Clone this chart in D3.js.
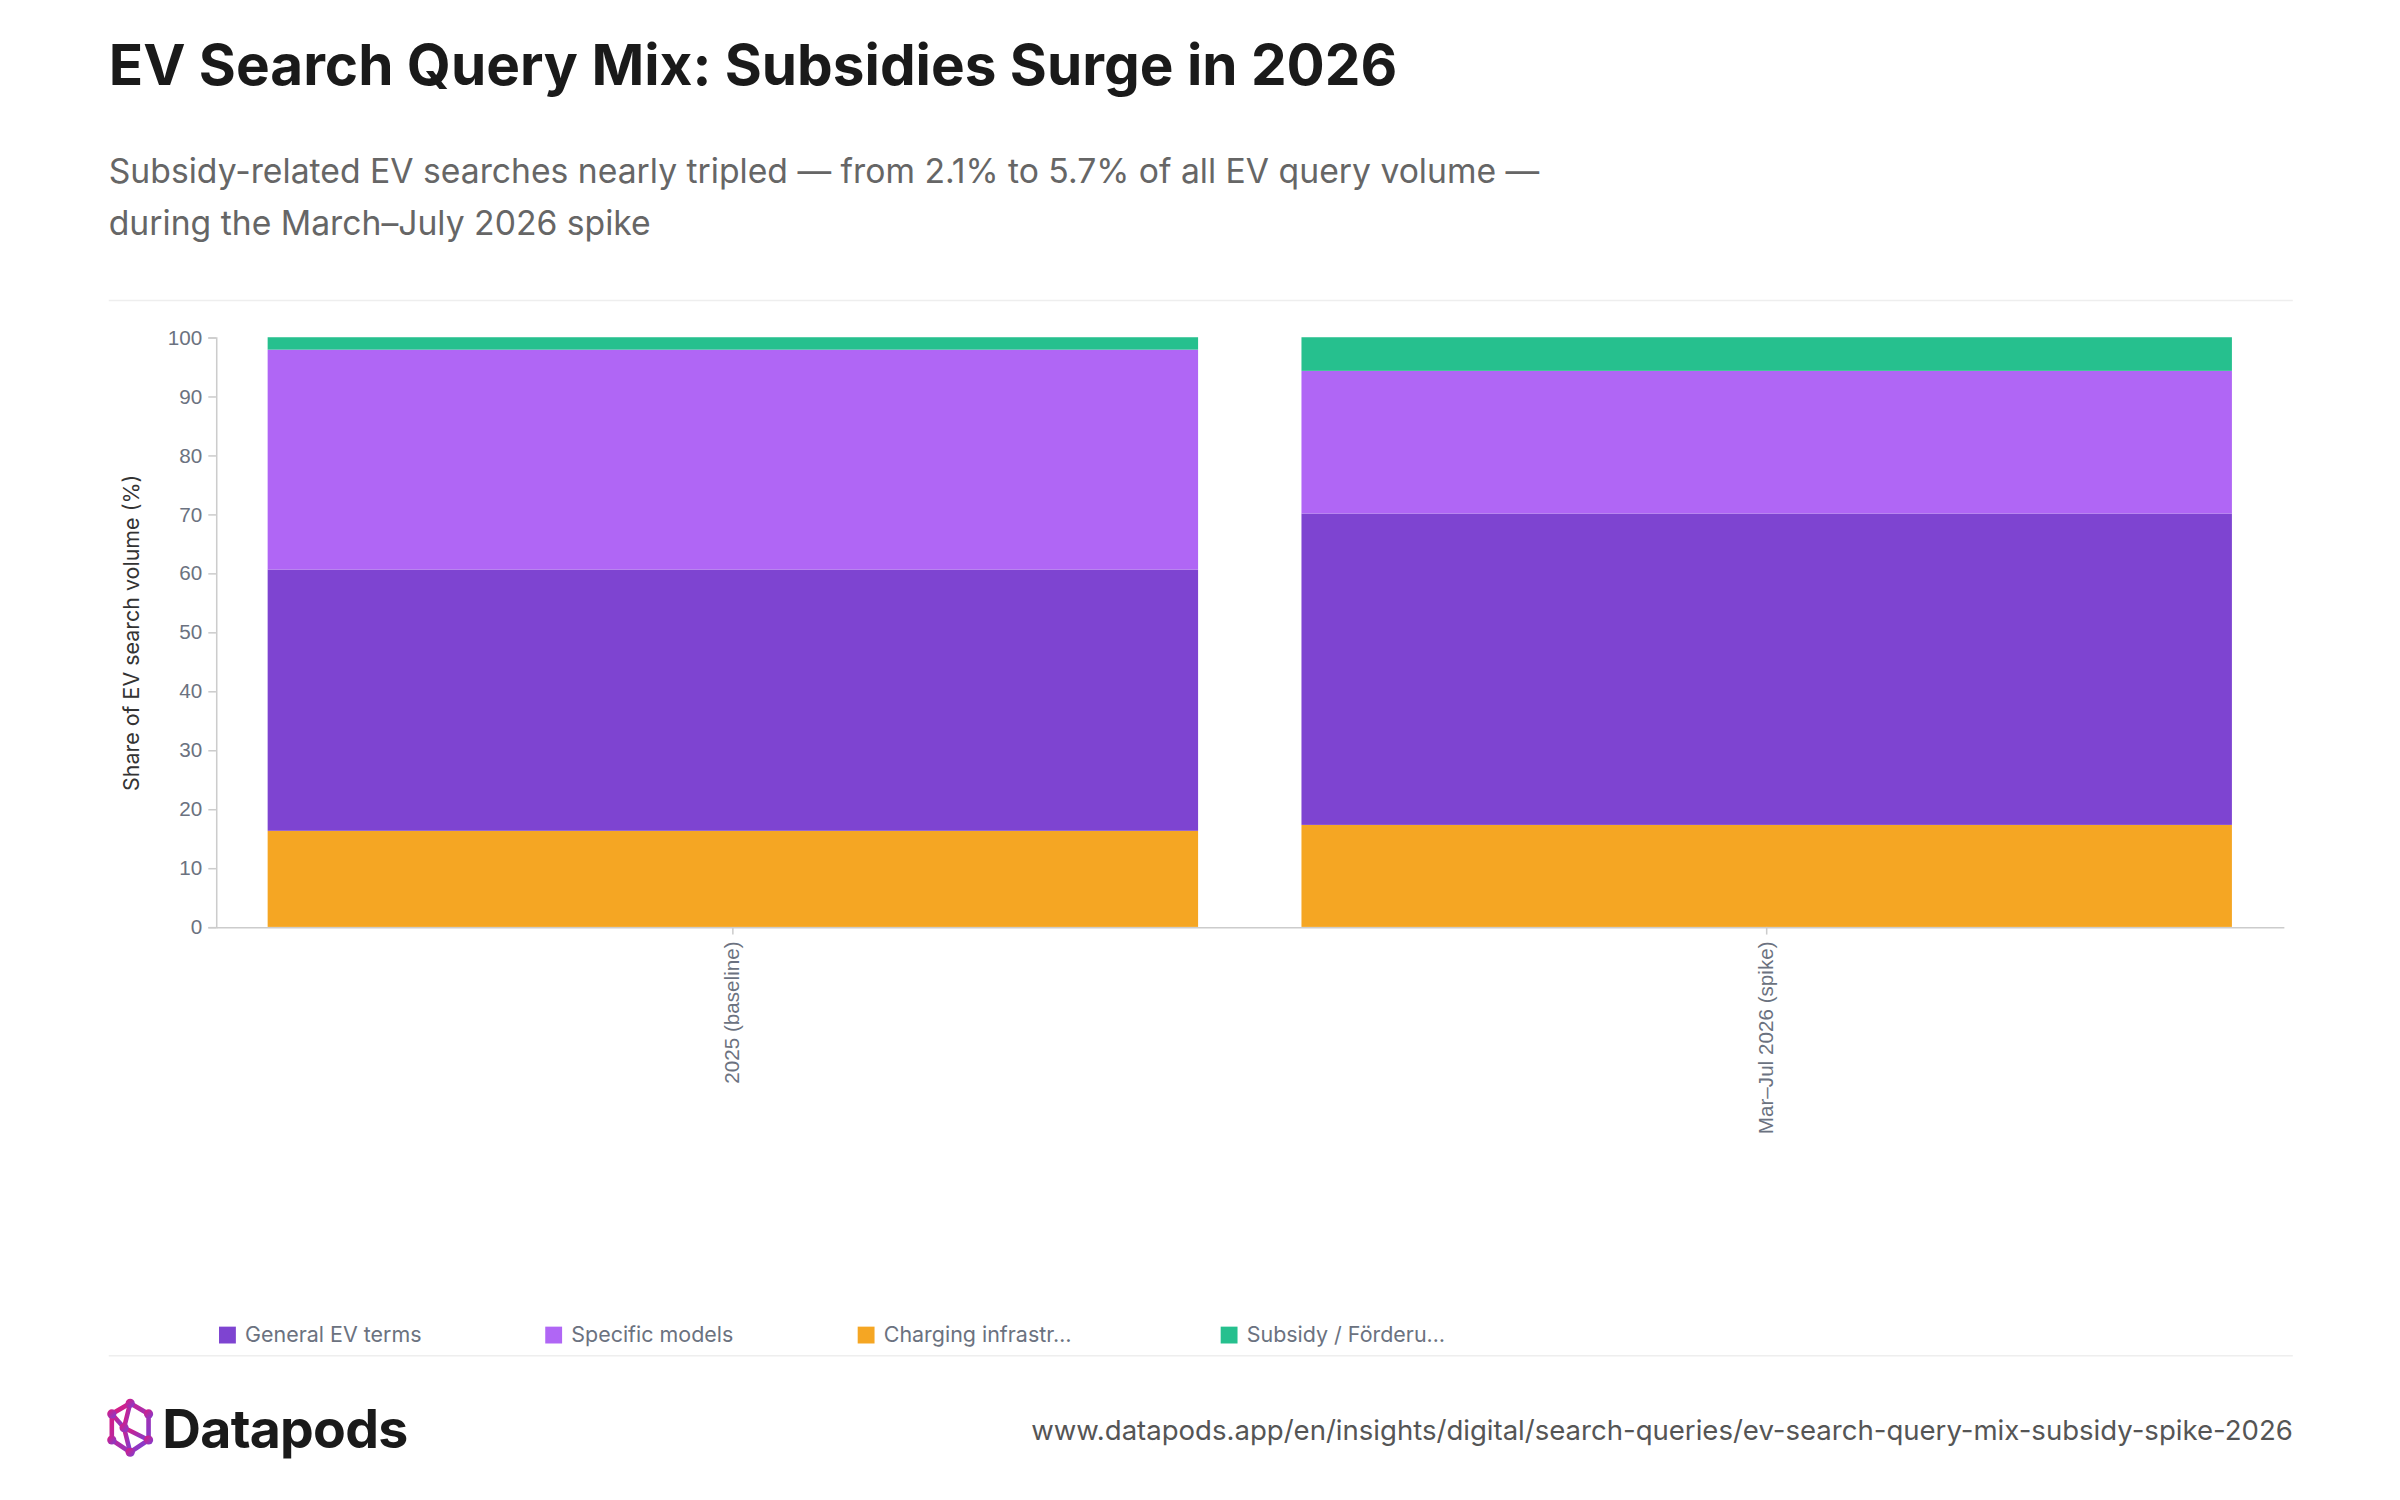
<!DOCTYPE html>
<html><head><meta charset="utf-8">
<script src="https://cdn.jsdelivr.net/npm/d3@7"></script>
<style>body{margin:0;background:#fff}svg{display:block;font-family:Inter,"Noto Sans",sans-serif}</style>
</head><body><div id="chart"></div>
<script>
const periods = ["2025 (baseline)", "Mar–Jul 2026 (spike)"]
const seriesKeys = ["charging", "general", "specific", "subsidy"]
const charging = [16.3, 17.3]
const general = [44.3, 52.8]
const specific = [37.3, 24.2]
const subsidy = [2.1, 5.7]
const legendLabels = ["General EV terms", "Specific models", "Charging infrastr…", "Subsidy / Förderu…"]
const legendKeys = ["general", "specific", "charging", "subsidy"]
const yTicks = [0, 10, 20, 30, 40, 50, 60, 70, 80, 90, 100]

const colors = { general: "#7e44d1", specific: "#b066f5", charging: "#f5a623", subsidy: "#26c08e" }
const table = periods.map((p, i) => ({ period: p, charging: charging[i], general: general[i], specific: specific[i], subsidy: subsidy[i] }))

const W = 1567, H = 979
const svg = d3.select("#chart").append("svg")
  .attr("width", 2400).attr("height", 1500).attr("viewBox", [0, 0, W, H])

svg.append("text").attr("x", 71).attr("y", 55).attr("font-size", 37).attr("font-weight", 700)
  .attr("fill", "#1a1a1a").text("EV Search Query Mix: Subsidies Surge in 2026")
const sub = svg.append("text").attr("font-size", 22).attr("fill", "#666")
sub.append("tspan").attr("x", 71).attr("y", 119).text("Subsidy-related EV searches nearly tripled — from 2.1% to 5.7% of all EV query volume —")
sub.append("tspan").attr("x", 71).attr("y", 153).text("during the March–July 2026 spike")

svg.append("line").attr("x1", 71).attr("x2", 1497).attr("y1", 196).attr("y2", 196).attr("stroke", "#eee")
svg.append("line").attr("x1", 71).attr("x2", 1497).attr("y1", 885).attr("y2", 885).attr("stroke", "#eee")

const x = d3.scaleBand(periods, [141, 1491]).paddingInner(0.1).paddingOuter(0.05)
const y = d3.scaleLinear([0, 100], [605, 220])
const stack = d3.stack().keys(seriesKeys)(table)

svg.append("g").selectAll("g").data(stack).join("g").attr("fill", d => colors[d.key])
  .selectAll("rect").data(d => d).join("rect")
  .attr("x", d => x(d.data.period)).attr("width", x.bandwidth())
  .attr("y", d => y(d[1])).attr("height", d => y(d[0]) - y(d[1]))

const ya = svg.append("g").attr("transform", "translate(141,0)")
  .call(d3.axisLeft(y).tickValues(yTicks).tickSize(5).tickPadding(4))
ya.selectAll("text").attr("font-size", 13.5).attr("fill", "#6b7280")
ya.selectAll("line,path").attr("stroke", "#ccc")

const xa = svg.append("g").attr("transform", "translate(0,605)")
  .call(d3.axisBottom(x).tickSize(5).tickSizeOuter(0))
xa.selectAll("line,path").attr("stroke", "#ccc")
xa.selectAll("text").attr("font-size", 13.5).attr("fill", "#6b7280")
  .attr("transform", "rotate(-90)").attr("text-anchor", "end").attr("dx", "-0.7em").attr("dy", "0.32em").attr("x", 0).attr("y", 0)

svg.append("text").attr("transform", "translate(91,413) rotate(-90)").attr("text-anchor", "middle")
  .attr("font-size", 14).attr("fill", "#333").text("Share of EV search volume (%)")

const legX = [143, 356, 560, 797]
const leg = svg.append("g").selectAll("g").data(legendKeys).join("g")
  .attr("transform", (d, i) => `translate(${legX[i]},866)`)
leg.append("rect").attr("width", 11).attr("height", 11).attr("fill", d => colors[d])
leg.append("text").attr("x", 17).attr("y", 10).attr("font-size", 14).attr("fill", "#6b7280")
  .text((d, i) => legendLabels[i])

// logo
const defs = svg.append("defs")
const gr = defs.append("linearGradient").attr("id", "lg").attr("x1", 0).attr("y1", 0).attr("x2", 1).attr("y2", 1)
gr.append("stop").attr("offset", 0).attr("stop-color", "#e0197d")
gr.append("stop").attr("offset", 1).attr("stop-color", "#7b3fd4")
const logo = svg.append("g").attr("transform", "translate(71,914)").attr("stroke", "url(#lg)").attr("fill", "none").attr("stroke-width", 3)
const pts = [[14, 2], [26, 9], [26, 26], [14, 34], [2, 26], [2, 9]]
logo.append("polygon").attr("points", pts.map(p => p.join(",")).join(" "))
logo.append("polyline").attr("points", "14,2 10,18 14,34")
logo.append("line").attr("x1", 10).attr("y1", 18).attr("x2", 26).attr("y2", 26)
logo.append("line").attr("x1", 10).attr("y1", 18).attr("x2", 2).attr("y2", 9)
logo.selectAll("circle").data(pts.concat([[10, 18]])).join("circle").attr("cx", d => d[0]).attr("cy", d => d[1]).attr("r", 3).attr("fill", "url(#lg)").attr("stroke", "none")
svg.append("text").attr("x", 106).attr("y", 945).attr("font-size", 35).attr("font-weight", 700).attr("fill", "#1a1a1a").attr("letter-spacing", -0.5).text("Datapods")

svg.append("text").attr("x", 1497).attr("y", 940).attr("text-anchor", "end").attr("font-size", 18).attr("fill", "#555")
  .text("www.datapods.app/en/insights/digital/search-queries/ev-search-query-mix-subsidy-spike-2026")
</script></body></html>
